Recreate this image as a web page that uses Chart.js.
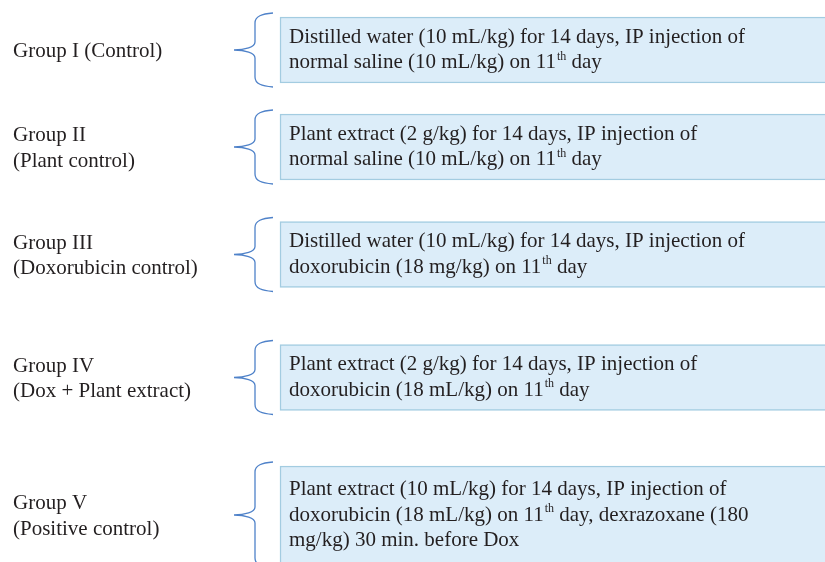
<!DOCTYPE html>
<html>
<head>
<meta charset="utf-8">
<script src="https://cdn.jsdelivr.net/npm/chart.js@4/dist/chart.umd.min.js"></script>
<style>
  html, body { margin: 0; padding: 0; background: #fff; }
  #wrap { width: 825px; height: 562px; }
</style>
</head>
<body>
<div id="wrap"><canvas id="chart"></canvas></div>
<script>
// Group labels (left column), one entry per line
const groupLabels = [
    ['Group I (Control)'],
    ['Group II', '(Plant control)'],
    ['Group III', '(Doxorubicin control)'],
    ['Group IV', '(Dox + Plant extract)'],
    ['Group V', '(Positive control)']
];

// Treatment text per group; ^th marks a superscript
const treatments = [
    ['Distilled water (10 mL/kg) for 14 days, IP injection of',
     'normal saline (10 mL/kg) on 11^th day'],
    ['Plant extract (2 g/kg) for 14 days, IP injection of',
     'normal saline (10 mL/kg) on 11^th day'],
    ['Distilled water (10 mL/kg) for 14 days, IP injection of',
     'doxorubicin (18 mg/kg) on 11^th day'],
    ['Plant extract (2 g/kg) for 14 days, IP injection of',
     'doxorubicin (18 mL/kg) on 11^th day'],
    ['Plant extract (10 mL/kg) for 14 days, IP injection of',
     'doxorubicin (18 mL/kg) on 11^th day, dexrazoxane (180',
     'mg/kg) 30 min. before Dox']
];

// layout (in scale units, 1 unit ~ 1px)
const rowCenter = [50, 147, 254.5, 377.5, 515];
const lineGap = 25.5;
const boxLeft = 280, boxRight = 860;

const font = '"Liberation Serif", "Times New Roman", serif';
const fontSize = 21;
const textColor = '#231f20';

const boxData = treatments.map((t, i) => {
    const h = t.length * 32 + 2;
    return { x: (boxLeft + boxRight) / 2, y: [rowCenter[i] - h / 2, rowCenter[i] + h / 2] };
});

function drawRich(ctx, str, x, y) {
    const parts = str.split(/(\^\w+)/);
    parts.forEach(p => {
        if (!p) return;
        if (p[0] === '^') {
            ctx.font = Math.round(fontSize * 0.55) + 'px ' + font;
            ctx.fillText(p.slice(1), x + 1, y - fontSize * 0.4);
            x += ctx.measureText(p.slice(1)).width + 1;
        } else {
            ctx.font = fontSize + 'px ' + font;
            ctx.fillText(p, x, y);
            x += ctx.measureText(p).width;
        }
    });
}

function lineBaselines(center, n) {
    const out = [];
    for (let k = 0; k < n; k++) out.push(center + (k - (n - 1) / 2) * lineGap + 6);
    return out;
}

const diagramText = {
    id: 'diagramText',
    afterDatasetsDraw(chart) {
        const ctx = chart.ctx;
        const meta = chart.getDatasetMeta(0);
        ctx.save();
        ctx.fillStyle = textColor;
        ctx.textBaseline = 'alphabetic';
        meta.data.forEach((bar, i) => {
            const left = bar.x - bar.width / 2;
            const top = Math.min(bar.y, bar.base);
            const bottom = Math.max(bar.y, bar.base);
            const mid = (top + bottom) / 2;

            // group label
            const lb = lineBaselines(mid + 1, groupLabels[i].length);
            groupLabels[i].forEach((s, k) => drawRich(ctx, s, 13, lb[k]));

            // treatment text inside box
            const tb = lineBaselines(mid - 0.5, treatments[i].length);
            treatments[i].forEach((s, k) => drawRich(ctx, s, left + 9, tb[k]));

            // curly brace
            const yT = top - 4, yB = bottom + 4;
            const xE = left - 7, xV = left - 25, xT = left - 46;
            ctx.strokeStyle = '#4f82c9';
            ctx.lineWidth = 1.3;
            ctx.beginPath();
            ctx.moveTo(xE, yT);
            ctx.bezierCurveTo(xE - 11, yT + 1, xV, yT + 3, xV, yT + 10);
            ctx.lineTo(xV, mid - 8);
            ctx.bezierCurveTo(xV, mid - 3, xT + 11, mid, xT, mid);
            ctx.bezierCurveTo(xT + 11, mid, xV, mid + 3, xV, mid + 8);
            ctx.lineTo(xV, yB - 10);
            ctx.bezierCurveTo(xV, yB - 3, xE - 11, yB - 1, xE, yB);
            ctx.stroke();
        });
        ctx.restore();
    }
};

const ctx = document.getElementById('chart').getContext('2d');
new Chart(ctx, {
    type: 'bar',
    data: {
        datasets: [{
            label: 'Treatment',
            data: boxData,
            backgroundColor: '#dcedf9',
            borderColor: '#a3cce1',
            borderWidth: 1.5,
            borderSkipped: false,
            barThickness: boxRight - boxLeft,
            clip: false
        }]
    },
    options: {
        responsive: true,
        maintainAspectRatio: false,
        animation: false,
        layout: { padding: 0 },
        plugins: { legend: { display: false }, tooltip: { enabled: false } },
        scales: {
            x: { type: 'linear', min: 0, max: 825, offset: false, display: false },
            y: { type: 'linear', min: 0, max: 562, reverse: true, display: false }
        }
    },
    plugins: [diagramText]
});
</script>
</body>
</html>
